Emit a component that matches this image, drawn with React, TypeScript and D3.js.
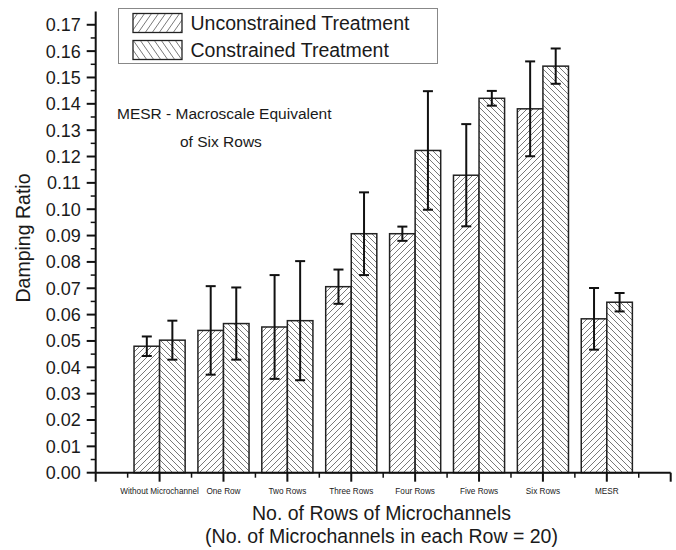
import React from "react";
import * as d3 from "d3";

const categories = ["Without Microchannel", "One Row", "Two Rows", "Three Rows", "Four Rows", "Five Rows", "Six Rows", "MESR"];
const unconstrained = [0.048, 0.054, 0.0553, 0.0706, 0.0907, 0.1129, 0.1381, 0.0584];
const unconstrainedErr = [0.0037, 0.0168, 0.0197, 0.0065, 0.0027, 0.0194, 0.018, 0.0117];
const constrained = [0.0503, 0.0566, 0.0577, 0.0907, 0.1223, 0.1421, 0.1543, 0.0647];
const constrainedErr = [0.0074, 0.0137, 0.0226, 0.0157, 0.0225, 0.0028, 0.0067, 0.0035];
const yTicks = [0, 0.01, 0.02, 0.03, 0.04, 0.05, 0.06, 0.07, 0.08, 0.09, 0.1, 0.11, 0.12, 0.13, 0.14, 0.15, 0.16, 0.17];
const seriesNames = ["Unconstrained Treatment", "Constrained Treatment"];

const W = 676;
const H = 550;
const FONT = "'Liberation Sans', Arial, Helvetica, sans-serif";
const TXT = "#1a1a1a";

export default function App() {
  const x = d3.scaleLinear().domain([0, 9]).range([95.7, 670.7]);
  const y = d3.scaleLinear().domain([0, 0.175]).range([472.7, 11.6]);
  const barW = 0.4;
  const y0 = y(0);

  const majorX = d3.range(0, 10);
  const minorX = d3.range(0.5, 9, 1);
  const minorY = d3.range(0.005, 0.175, 0.01);

  const series = [
    { vals: unconstrained, errs: unconstrainedErr, offset: -barW, fill: "url(#hatchU)" },
    { vals: constrained, errs: constrainedErr, offset: 0, fill: "url(#hatchC)" },
  ];

  return (
    <svg width={W} height={H} style={{ position: "absolute", left: 0, top: 0, background: "#fff" }} fontFamily={FONT}>
      <defs>
        <pattern id="hatchU" patternUnits="userSpaceOnUse" width={6} height={6}>
          <rect width={6} height={6} fill="#fff" />
          <path d="M-1,1 l2,-2 M0,6 l6,-6 M5,7 l2,-2" stroke="#555" strokeWidth={0.8} />
        </pattern>
        <pattern id="hatchC" patternUnits="userSpaceOnUse" width={6} height={6}>
          <rect width={6} height={6} fill="#fff" />
          <path d="M-1,5 l2,2 M0,0 l6,6 M5,-1 l2,2" stroke="#555" strokeWidth={0.8} />
        </pattern>
        <pattern id="legU" patternUnits="userSpaceOnUse" width={7} height={10}>
          <rect width={7} height={10} fill="#fff" />
          <path d="M-1,1.43 l2,-2.86 M0,10 l7,-10 M6,11.43 l2,-2.86" stroke="#555" strokeWidth={0.8} />
        </pattern>
        <pattern id="legC" patternUnits="userSpaceOnUse" width={7} height={10}>
          <rect width={7} height={10} fill="#fff" />
          <path d="M-1,8.57 l2,2.86 M0,0 l7,10 M6,-1.43 l2,2.86" stroke="#555" strokeWidth={0.8} />
        </pattern>
      </defs>

      {/* bars */}
      {series.map((s, si) =>
        s.vals.map((v, i) => (
          <rect
            key={`b${si}-${i}`}
            x={x(i + 1 + s.offset)}
            y={y(v)}
            width={x(barW) - x(0)}
            height={y0 - y(v)}
            fill={s.fill}
            stroke="#222"
            strokeWidth={1.5}
          />
        ))
      )}

      {/* error bars */}
      {series.map((s, si) =>
        s.vals.map((v, i) => {
          const cx = x(i + 1 + s.offset + barW / 2);
          const yt = y(v + s.errs[i]);
          const yb = y(v - s.errs[i]);
          return (
            <g key={`e${si}-${i}`} stroke="#111" strokeWidth={2}>
              <line x1={cx} x2={cx} y1={yt} y2={yb} />
              <line x1={cx - 5} x2={cx + 5} y1={yt} y2={yt} />
              <line x1={cx - 5} x2={cx + 5} y1={yb} y2={yb} />
            </g>
          );
        })
      )}

      {/* y axis */}
      <line x1={x(0)} x2={x(0)} y1={y(0.175)} y2={y0} stroke="#111" strokeWidth={2} />
      {yTicks.map((t) => (
        <g key={`yt${t}`}>
          <line x1={x(0) - 9} x2={x(0)} y1={y(t)} y2={y(t)} stroke="#111" strokeWidth={2} />
          <text x={x(0) - 15} y={y(t)} dy="0.36em" textAnchor="end" fontSize={18} fill={TXT}>
            {t.toFixed(2)}
          </text>
        </g>
      ))}
      {minorY.map((t) => (
        <line key={`ym${t}`} x1={x(0) - 5} x2={x(0)} y1={y(t)} y2={y(t)} stroke="#111" strokeWidth={1.5} />
      ))}

      {/* x axis */}
      <line x1={x(0)} x2={x(9)} y1={y0} y2={y0} stroke="#111" strokeWidth={2} />
      {majorX.map((t) => (
        <line key={`xt${t}`} x1={x(t)} x2={x(t)} y1={y0} y2={y0 + 9} stroke="#111" strokeWidth={2} />
      ))}
      {minorX.map((t) => (
        <line key={`xm${t}`} x1={x(t)} x2={x(t)} y1={y0} y2={y0 + 5} stroke="#111" strokeWidth={1.5} />
      ))}
      {categories.map((c, i) => (
        <text key={`xl${i}`} x={x(i + 1)} y={494} textAnchor="middle" fontSize={8.2} fill={TXT}>
          {c}
        </text>
      ))}

      {/* axis titles */}
      <text x={381.5} y={520} textAnchor="middle" fontSize={19.5} fill={TXT}>
        No. of Rows of Microchannels
      </text>
      <text x={381.5} y={543} textAnchor="middle" fontSize={19.5} fill={TXT}>
        (No. of Microchannels in each Row = 20)
      </text>
      <text transform="translate(29.5,238) rotate(-90)" textAnchor="middle" fontSize={19.5} fill={TXT}>
        Damping Ratio
      </text>

      {/* annotation */}
      <text x={117} y={119} fontSize={15.5} fill={TXT}>
        MESR - Macroscale Equivalent
      </text>
      <text x={180} y={147} fontSize={15.5} fill={TXT}>
        of Six Rows
      </text>

      {/* legend */}
      <rect x={118.5} y={8.5} width={319} height={55} fill="#fff" stroke="#888" strokeWidth={1} />
      {seriesNames.map((n, i) => (
        <g key={`lg${i}`}>
          <rect x={133} y={13.5 + i * 27} width={49} height={19} fill={i === 0 ? "url(#legU)" : "url(#legC)"} stroke="#222" strokeWidth={1.3} />
          <text x={190.5} y={30 + i * 27} fontSize={19.5} fill={TXT}>
            {n}
          </text>
        </g>
      ))}
    </svg>
  );
}
